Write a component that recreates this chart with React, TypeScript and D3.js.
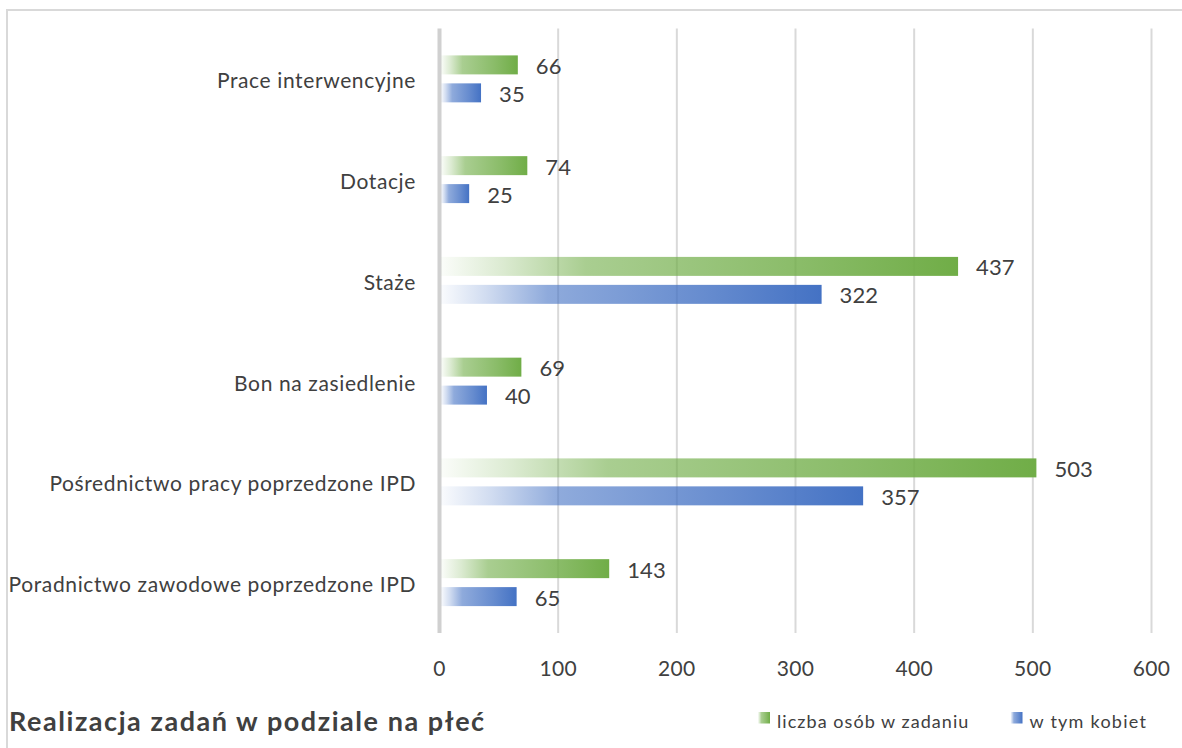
import React from "react";
import * as d3 from "d3";

const categories = [
  "Prace interwencyjne",
  "Dotacje",
  "Staże",
  "Bon na zasiedlenie",
  "Pośrednictwo pracy poprzedzone IPD",
  "Poradnictwo zawodowe poprzedzone IPD",
];
const seriesNames = ["liczba osób w zadaniu", "w tym kobiet"];
const totalValues = [66, 74, 437, 69, 503, 143];
const womenValues = [35, 25, 322, 40, 357, 65];
const xTicks = [0, 100, 200, 300, 400, 500, 600];
const title = "Realizacja zadań w podziale na płeć";
const seriesColors = ["#70AD47", "#4472C4"];

const W = 1182;
const H = 748;
const FONT = "Lato, 'Open Sans', sans-serif";
const TEXT = "#404040";

export default function App() {
  const x = d3.scaleLinear().domain([0, 600]).range([439.5, 1151.5]);
  const y = d3
    .scaleBand<string>()
    .domain(categories)
    .range([28.5, 633])
    .paddingInner(0.534)
    .paddingOuter(0.267);
  const inner = d3
    .scaleBand<number>()
    .domain([0, 1])
    .range([0, y.bandwidth()])
    .paddingInner(0.321)
    .paddingOuter(0);
  const series = [totalValues, womenValues];

  return (
    <svg
      width={W}
      height={H}
      style={{ position: "absolute", left: 0, top: 0, background: "#fff" }}
    >
      <defs>
        {seriesColors.map((c, i) => (
          <linearGradient key={i} id={`grad${i}`} x1="0" x2="1" y1="0" y2="0">
            <stop offset="0" stopColor={c} stopOpacity={0.03} />
            <stop offset="0.12" stopColor={c} stopOpacity={0.25} />
            <stop offset="0.28" stopColor={c} stopOpacity={0.6} />
            <stop offset="0.7" stopColor={c} stopOpacity={0.82} />
            <stop offset="1" stopColor={c} stopOpacity={1} />
          </linearGradient>
        ))}
      </defs>
      <rect x={0} y={0} width={W} height={H} fill="#fff" />
      <rect
        x={7}
        y={10}
        width={1250}
        height={800}
        fill="none"
        stroke="#d9d9d9"
        strokeWidth={2}
      />
      {/* gridlines */}
      {xTicks.map((t) => (
        <line
          key={t}
          x1={x(t)}
          x2={x(t)}
          y1={28.5}
          y2={633}
          stroke={t === 0 ? "#d0d0d0" : "#d9d9d9"}
          strokeWidth={t === 0 ? 4 : 2}
        />
      ))}
      {/* bars */}
      {categories.map((c, ci) =>
        series.map((vals, si) => {
          const by = (y(c) as number) + (inner(si) as number);
          const bh = inner.bandwidth();
          return (
            <g key={`${c}-${si}`}>
              <rect
                x={x(0) + 1.5}
                y={by}
                width={x(vals[ci]) - x(0) - 1.5}
                height={bh}
                fill={`url(#grad${si})`}
              />
              <text
                x={x(vals[ci]) + 18}
                y={by + bh / 2 + 0.5}
                dominantBaseline="central"
                fontFamily={FONT}
                fontSize={22}
                letterSpacing={0.1}
                fill={TEXT}
              >
                {vals[ci]}
              </text>
            </g>
          );
        })
      )}
      {/* category labels */}
      {categories.map((c) => (
        <text
          key={c}
          x={416}
          y={(y(c) as number) + y.bandwidth() / 2 + 1}
          textAnchor="end"
          dominantBaseline="central"
          fontFamily={FONT}
          fontSize={21}
          letterSpacing={0.62}
          fill={TEXT}
        >
          {c}
        </text>
      ))}
      {/* x tick labels */}
      {xTicks.map((t) => (
        <text
          key={t}
          x={x(t)}
          y={667}
          textAnchor="middle"
          dominantBaseline="central"
          fontFamily={FONT}
          fontSize={21}
          letterSpacing={0.3}
          fill={TEXT}
        >
          {t}
        </text>
      ))}
      {/* title */}
      <text
        x={9}
        y={731}
        fontFamily={FONT}
        fontWeight="bold"
        fontSize={27}
        letterSpacing={1.55}
        fill={TEXT}
      >
        {title}
      </text>
      {/* legend */}
      {seriesNames.map((n, i) => {
        const lx = i === 0 ? 758 : 1010.5;
        return (
          <g key={n}>
            <rect x={lx} y={712} width={12} height={11.5} fill={`url(#grad${i})`} />
            <text
              x={lx + 19}
              y={721}
              dominantBaseline="central"
              fontFamily={FONT}
              fontSize={18}
              letterSpacing={i === 0 ? 1.05 : 1.25}
              fill={TEXT}
            >
              {n}
            </text>
          </g>
        );
      })}
    </svg>
  );
}
